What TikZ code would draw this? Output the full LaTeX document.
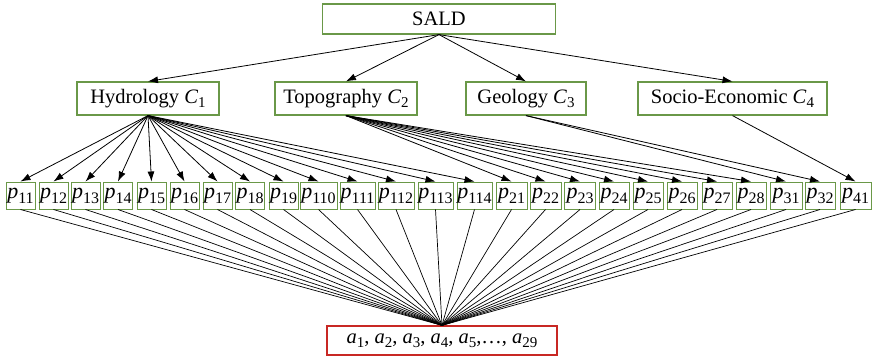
\documentclass[tikz,border=0pt]{standalone}
\usepackage{fontspec}
\setmainfont{Liberation Serif}
\usetikzlibrary{arrows.meta}
\definecolor{boxgreen}{RGB}{106,152,72}
\definecolor{boxred}{RGB}{200,40,36}
\newcommand\sbx[1]{\raisebox{-0.22em}{\fontsize{15}{15}\selectfont #1}}
\newcommand\pv[2]{\textit{#1}\sbx{#2}}
\newcommand\pbig[2]{{\fontsize{22}{24}\selectfont\textit{#1}\raisebox{-0.22em}{\fontsize{16}{16}\selectfont #2}}}
\begin{document}
\begin{tikzpicture}[x=1pt,y=-1pt, font=\fontsize{20.5}{24}\selectfont,
  gbox/.style={draw=boxgreen, line width=1.2pt, inner sep=0pt, minimum height=33pt},
  pbox/.style={draw=boxgreen, line width=1pt, inner sep=0pt, minimum height=27pt},
  arr/.style={-{Latex[length=10pt,width=7pt]}, line width=0.8pt},
  ln/.style={line width=0.7pt}]
\useasboundingbox (0,0) rectangle (874,359);
\node[gbox, minimum width=233pt, minimum height=30pt] (S) at (439,19) {SALD};
\node[gbox, minimum width=142pt] (C1) at (148,98.5) {Hydrology \textit{C}\sbx{1}};
\node[gbox, minimum width=142pt] (C2) at (346,98.5) {Topography \textit{C}\sbx{2}};
\node[gbox, minimum width=120pt] (C3) at (526,98.5) {Geology \textit{C}\sbx{3}};
\node[gbox, minimum width=189pt] (C4) at (732.5,98.5) {Socio-Economic \textit{C}\sbx{4}};
\node[draw=boxred, line width=1.3pt, inner sep=0pt, minimum width=230pt, minimum height=29pt] (A) at (442,340.5)
  {\pv{a}{1}, \pv{a}{2}, \pv{a}{3}, \pv{a}{4}, \pv{a}{5},\ldots, \pv{a}{29}};
\foreach \n/\x/\w/\pa in {11/20.5/29/C1, 12/53.5/29/C1, 13/85.5/29/C1, 14/118/29/C1, 15/151.5/29/C1,
  16/184.5/29/C1, 17/217.5/29/C1, 18/250/29/C1, 19/283.5/29/C1,
  110/318.5/37/C1, 111/357.5/35/C1, 112/396/36/C1, 113/435.5/35/C1, 114/474.5/35/C1,
  21/511.5/31/C2, 22/545.5/31/C2, 23/580/31/C2, 24/614/30/C2, 25/648/30/C2, 26/682/30/C2,
  27/717/30/C2, 28/751/30/C2, 31/786/32/C3, 32/820/30/C3, 41/855.5/31/C4}
{
  \node[pbox, minimum width=\w pt] (p\n) at (\x,195.5) {\pbig{p}{\n}};
  \draw[arr] (\pa.south) -- (p\n.north);
  \draw[ln] (p\n.south) -- (A.north);
}
\foreach \c in {C1,C2,C3,C4} \draw[arr] (S.south) -- (\c.north);
\end{tikzpicture}
\end{document}
